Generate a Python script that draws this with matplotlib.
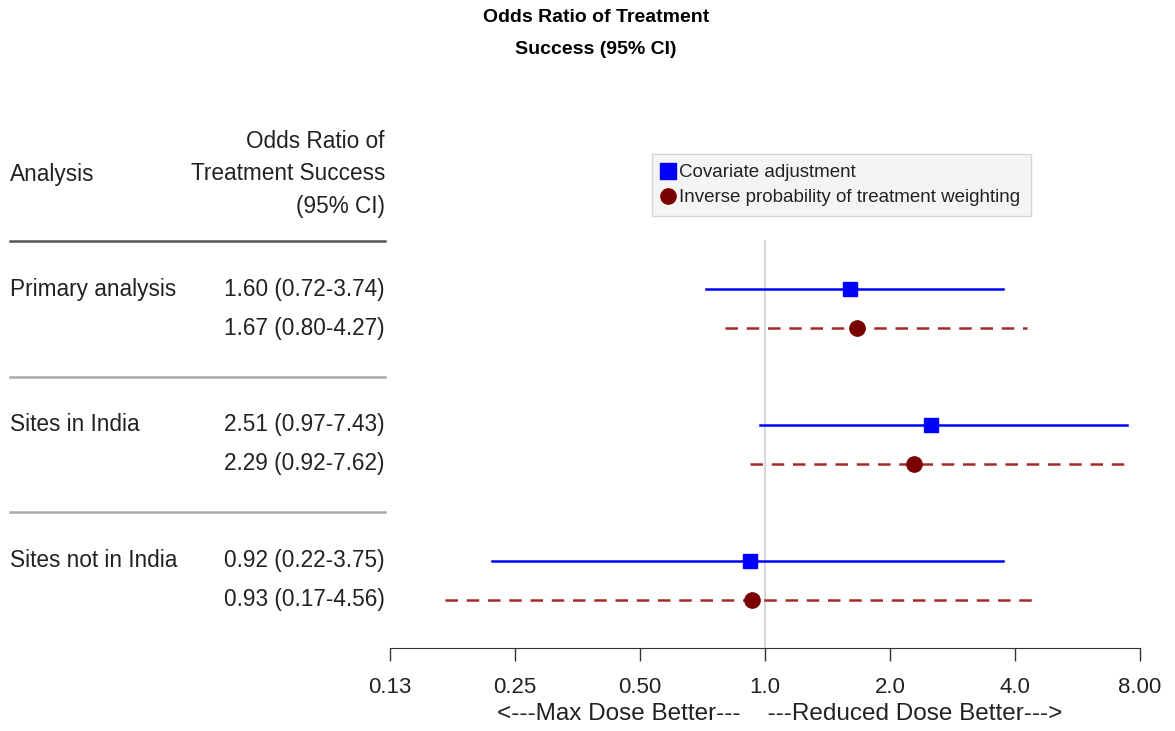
import matplotlib.pyplot as plt
import matplotlib.transforms as mtransforms
from matplotlib.lines import Line2D

plt.rcParams['font.family'] = ['Liberation Sans', 'DejaVu Sans']

groups = ['Primary analysis', 'Sites in India', 'Sites not in India']
cov_or = [1.60, 2.51, 0.92]
cov_lo = [0.72, 0.97, 0.22]
cov_hi = [3.74, 7.43, 3.75]
ipw_or = [1.67, 2.29, 0.93]
ipw_lo = [0.80, 0.92, 0.17]
ipw_hi = [4.27, 7.62, 4.56]
tick_vals = [0.125, 0.25, 0.5, 1.0, 2.0, 4.0, 8.0]
tick_labels = ['0.13', '0.25', '0.50', '1.0', '2.0', '4.0', '8.00']

blue = '#0000ff'
red_line = '#a52a2a'
red_pt = '#7a0000'
txt = '#222222'

fig = plt.figure(figsize=(11.75, 7.31), dpi=100)
ax = fig.add_axes([390 / 1175, 1 - 648 / 731, 750 / 1175, 408 / 731])
ax.set_xscale('log', base=2)
ax.set_xlim(0.125, 8)
ax.set_ylim(9.2, -1.26)

# row positions: two rows per group
y_cov = [g * 3.48 for g in range(3)]
y_ipw = [g * 3.48 + 1 for g in range(3)]

ax.axvline(1.0, color='#d0d0d0', lw=1.2, zorder=0)
for i in range(3):
    ax.plot([cov_lo[i], cov_hi[i]], [y_cov[i]] * 2, color=blue, lw=1.8)
    ax.plot(cov_or[i], y_cov[i], 's', color=blue, ms=10)
    ax.plot([ipw_lo[i], ipw_hi[i]], [y_ipw[i]] * 2, color=red_line, lw=1.8,
            dashes=(5, 3.5))
    ax.plot(ipw_or[i], y_ipw[i], 'o', color=red_pt, ms=11)

for s in ['top', 'right', 'left']:
    ax.spines[s].set_visible(False)
ax.spines['bottom'].set_color('#333333')
ax.set_yticks([])
ax.set_xticks(tick_vals)
ax.set_xticklabels(tick_labels)
ax.minorticks_off()
ax.tick_params(axis='x', length=9, width=1, color='#333333', labelsize=16,
               pad=12, labelcolor=txt)
ax.set_xlabel('<---Max Dose Better---    ---Reduced Dose Better--->',
              fontsize=17.5, color=txt)
ax.xaxis.set_label_coords(0.52, -0.135)

# left table
tr = mtransforms.blended_transform_factory(fig.transFigure, ax.transData)
xl = 10 / 1175
xr = 385 / 1175
fs = 16.3
for i in range(3):
    ax.text(xl, y_cov[i], groups[i], transform=tr, ha='left', va='center',
            fontsize=fs, color=txt)
    ax.text(xr, y_cov[i], '%.2f (%.2f-%.2f)' % (cov_or[i], cov_lo[i], cov_hi[i]),
            transform=tr, ha='right', va='center', fontsize=fs, color=txt)
    ax.text(xr, y_ipw[i], '%.2f (%.2f-%.2f)' % (ipw_or[i], ipw_lo[i], ipw_hi[i]),
            transform=tr, ha='right', va='center', fontsize=fs, color=txt)

fig.text(xl, 1 - 174 / 731, 'Analysis', ha='left', va='center', fontsize=fs,
         color=txt)
fig.text(xr, 1 - 142 / 731, 'Odds Ratio of', ha='right', va='center',
         fontsize=fs, color=txt)
fig.text(xr, 1 - 174 / 731, 'Treatment Success', ha='right', va='center',
         fontsize=fs, color=txt)
fig.text(xr, 1 - 207 / 731, '(95% CI)', ha='right', va='center',
         fontsize=fs, color=txt)

for yy, c in [(241, '#555555'), (377, '#aaaaaa'), (512, '#aaaaaa')]:
    fig.add_artist(Line2D([xl, xr], [1 - yy / 731] * 2, color=c, lw=1.8,
                          transform=fig.transFigure))

fig.text(596 / 1175, 1 - 18 / 731, 'Odds Ratio of Treatment', ha='center',
         va='center', fontsize=14, fontweight='bold')
fig.text(596 / 1175, 1 - 50 / 731, 'Success (95% CI)', ha='center',
         va='center', fontsize=14, fontweight='bold')

handles = [Line2D([], [], marker='s', color=blue, ls='none', ms=11),
           Line2D([], [], marker='o', color=red_pt, ls='none', ms=11)]
leg = fig.legend(handles, ['Covariate adjustment',
                           'Inverse probability of treatment weighting'],
                 loc='upper left', bbox_to_anchor=(652 / 1175, 1 - 154 / 731),
                 fontsize=13.5, frameon=True, fancybox=False,
                 handlelength=0.6, handletextpad=0.3, labelspacing=0.4,
                 borderpad=0.55, borderaxespad=0, labelcolor=txt)
leg.get_frame().set_facecolor('#f2f2f2')
leg.get_frame().set_edgecolor('#cccccc')

fig.savefig('out.png', dpi=100)
